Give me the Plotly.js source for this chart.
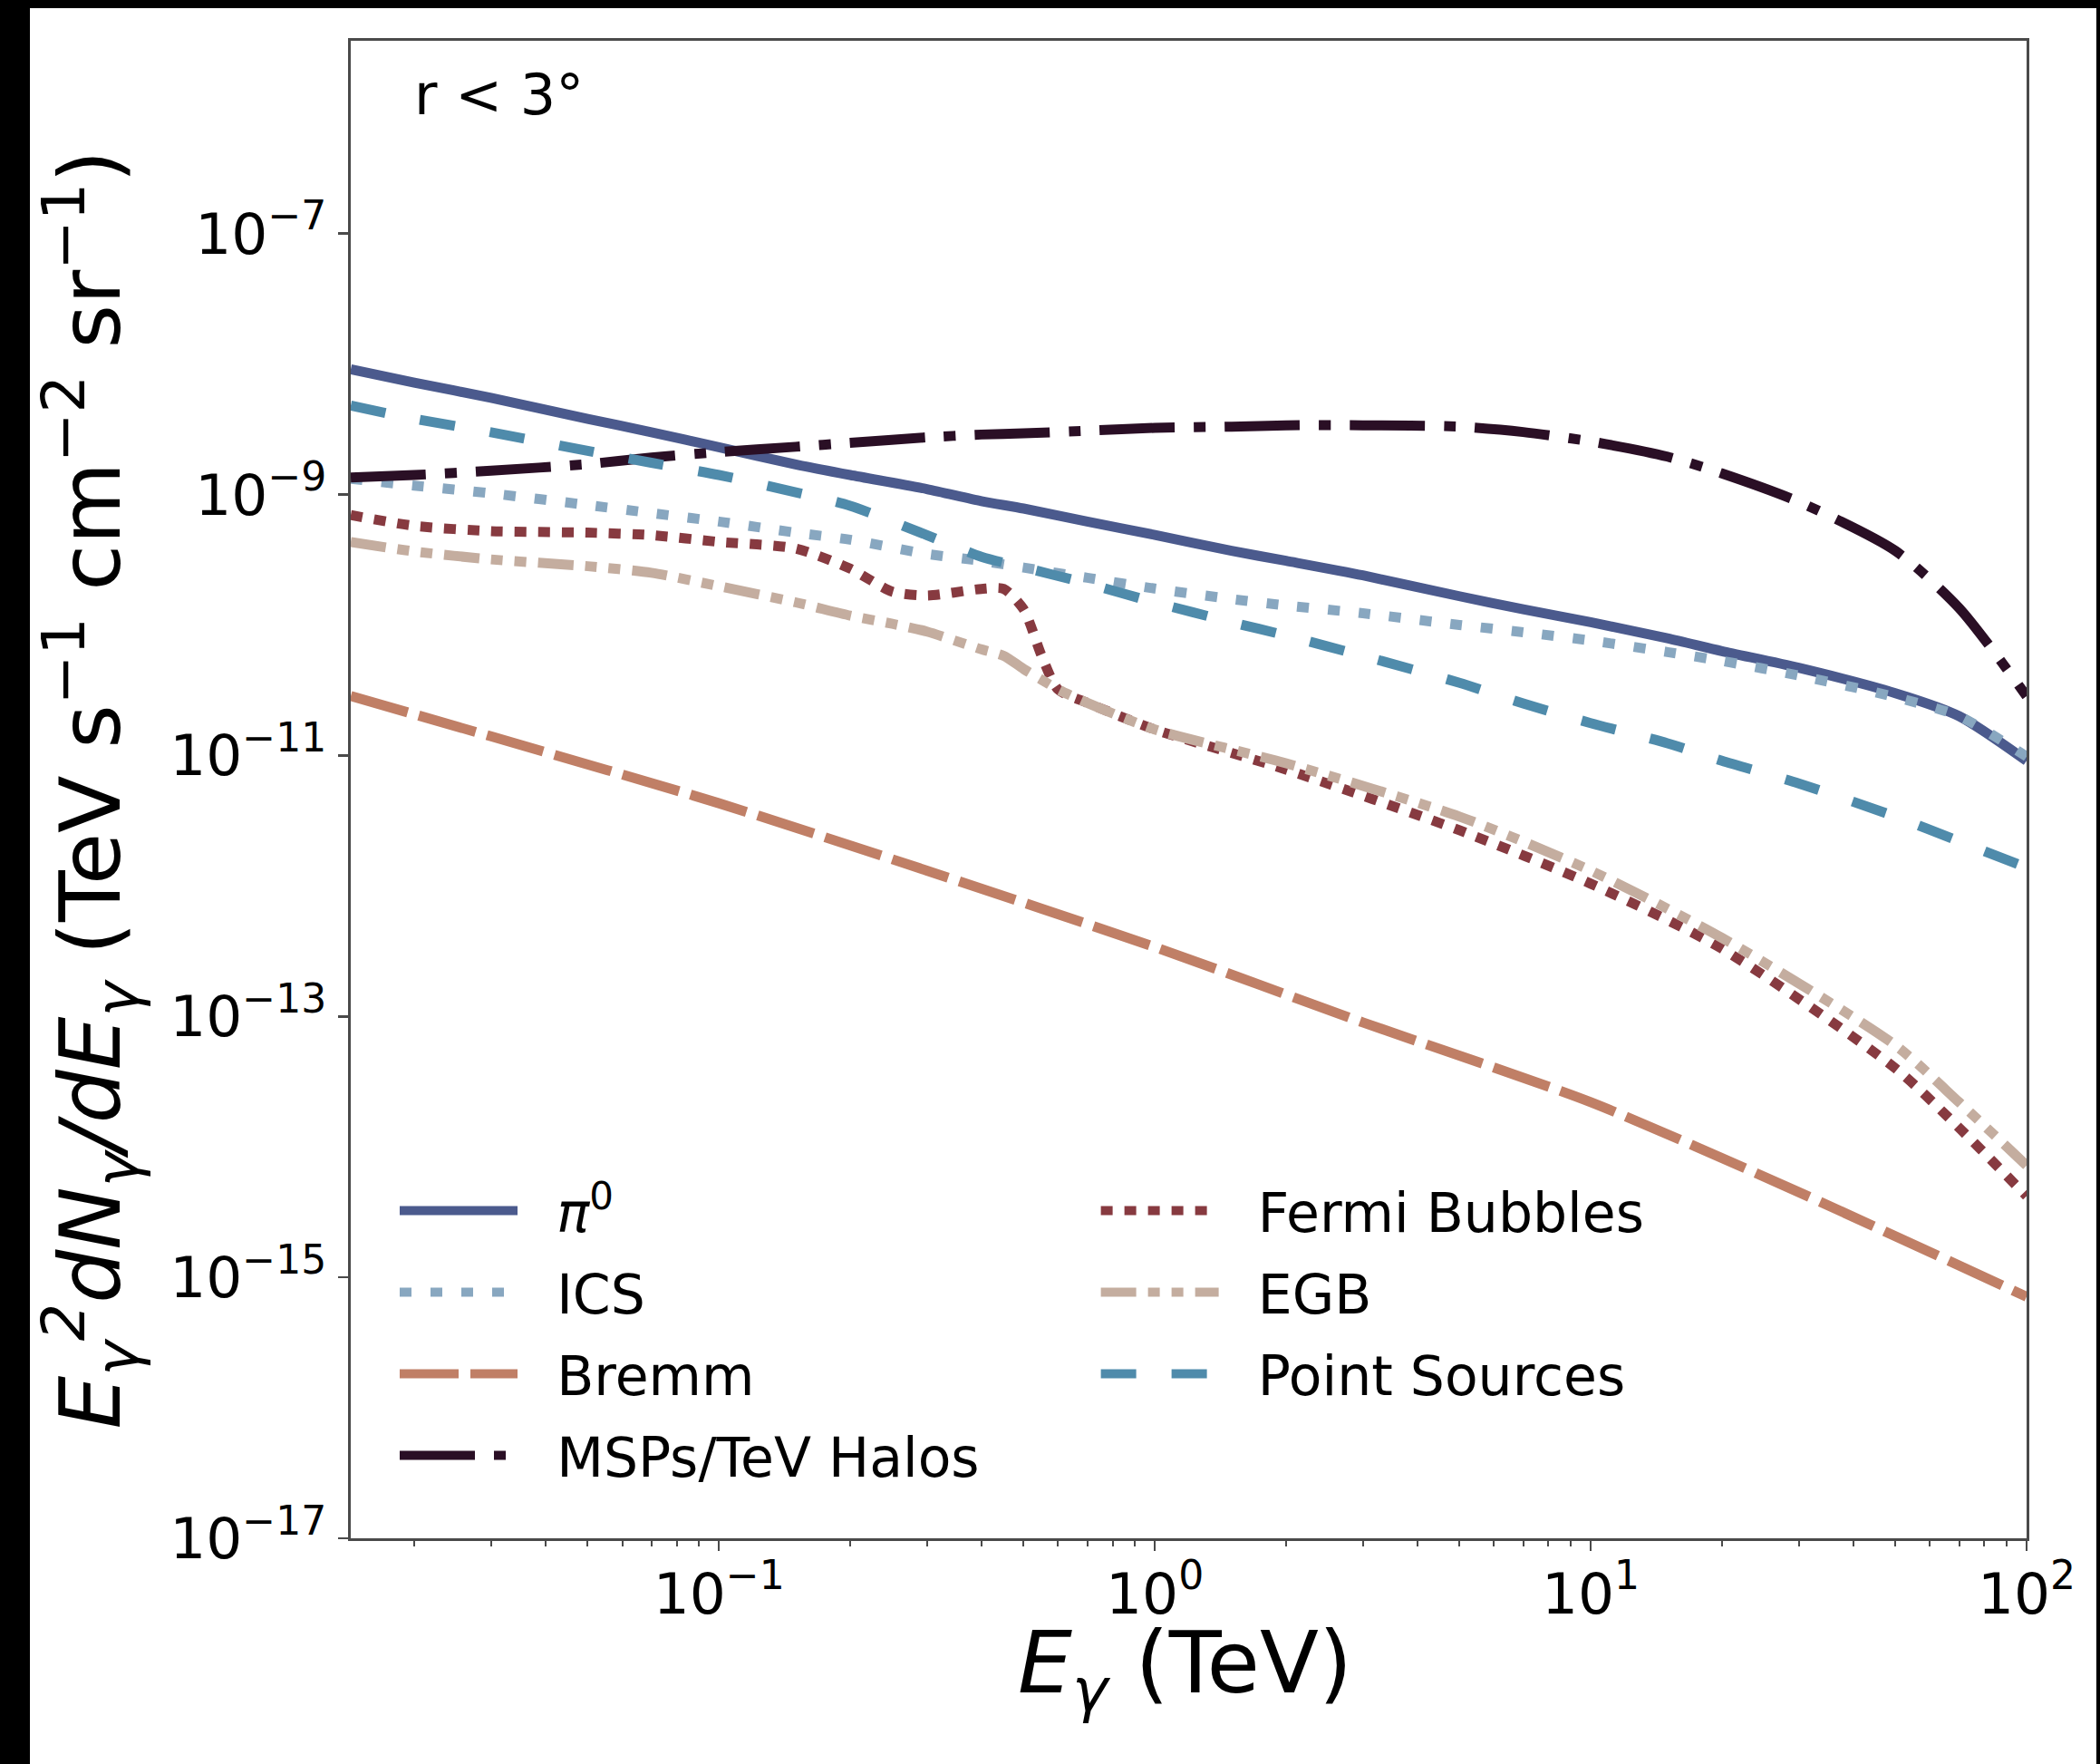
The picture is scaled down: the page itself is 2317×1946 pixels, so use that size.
<!DOCTYPE html>
<html>
<head>
<meta charset="utf-8">
<script src="https://cdn.plot.ly/plotly-3.0.1.min.js"></script>
<style>
  html, body { margin: 0; padding: 0; background: #000; width: 2317px; height: 1946px; overflow: hidden; }
  #chart { position: absolute; left: 33px; top: 9px; width: 2280px; height: 1937px; background: #fff; }
</style>
</head>
<body>
<div id="chart"></div>
<script>
// Photon energies (TeV)
const energy = [0.0143, 0.02, 0.03, 0.05, 0.07, 0.1, 0.15, 0.2, 0.3, 0.4, 0.5, 0.7, 1, 1.5, 2, 3, 5, 7, 10, 15, 20, 30, 50, 70, 100];
const energyFine = [0.0143, 0.02, 0.03, 0.05, 0.07, 0.1, 0.15, 0.2, 0.25, 0.3, 0.4, 0.45, 0.5, 0.55, 0.6, 0.7, 1, 2, 5, 10, 20, 50, 70, 100];
const energyBremm = [0.0143, 0.03, 0.1, 0.3, 1, 3, 10, 30, 100];

// E^2 dN/dE (TeV s^-1 cm^-2 sr^-1), r < 3 deg
const pi0 = [9.1e-9, 7.2e-9, 5.5e-9, 3.8e-9, 3.0e-9, 2.3e-9, 1.7e-9, 1.41e-9, 1.1e-9, 8.9e-10, 7.8e-10, 6.2e-10, 4.9e-10, 3.7e-10, 3.1e-10, 2.4e-10, 1.66e-10, 1.32e-10, 1.05e-10, 7.9e-11, 6.3e-11, 4.7e-11, 3.0e-11, 2.0e-11, 9.1e-12];
const ics = [1.32e-9, 1.17e-9, 1.02e-9, 8.3e-10, 7.2e-10, 6.2e-10, 5.1e-10, 4.5e-10, 3.5e-10, 3.1e-10, 2.75e-10, 2.3e-10, 1.9e-10, 1.58e-10, 1.41e-10, 1.23e-10, 1.0e-10, 8.8e-11, 7.6e-11, 6.2e-11, 5.3e-11, 4.1e-11, 2.8e-11, 2.0e-11, 9.8e-12];
const bremm = [2.85e-11, 1.4e-11, 4.3e-12, 1.31e-12, 3.4e-13, 9.0e-14, 2.2e-14, 4.5e-15, 7.1e-16];
const msps = [1.35e-9, 1.41e-9, 1.52e-9, 1.71e-9, 1.92e-9, 2.11e-9, 2.32e-9, 2.49e-9, 2.74e-9, 2.88e-9, 2.94e-9, 3.08e-9, 3.24e-9, 3.31e-9, 3.39e-9, 3.39e-9, 3.31e-9, 3.01e-9, 2.55e-9, 1.95e-9, 1.45e-9, 8.8e-10, 3.7e-10, 1.35e-10, 2.85e-11];
const fermiBubbles = [6.95e-10, 5.75e-10, 5.24e-10, 5.1e-10, 4.88e-10, 4.33e-10, 3.85e-10, 2.7e-10, 1.8e-10, 1.68e-10, 1.89e-10, 1.89e-10, 1.32e-10, 5.8e-11, 3.2e-11, 2.53e-11, 1.58e-11, 7.8e-12, 2.67e-12, 1.04e-12, 3.3e-13, 4.0e-14, 1.4e-14, 4.2e-15];
const egb = [4.33e-10, 3.66e-10, 3.18e-10, 2.82e-10, 2.51e-10, 1.98e-10, 1.49e-10, 1.18e-10, 1.02e-10, 8.9e-11, 6.5e-11, 5.8e-11, 4.6e-11, 3.8e-11, 3.2e-11, 2.53e-11, 1.58e-11, 8.7e-12, 3.4e-12, 1.31e-12, 4.0e-13, 6.0e-14, 2.2e-14, 7.2e-15];
const pointSources = [4.8e-9, 3.8e-9, 3.0e-9, 2.16e-9, 1.75e-9, 1.41e-9, 1.04e-9, 8.2e-10, 4.88e-10, 3.33e-10, 2.76e-10, 2.08e-10, 1.49e-10, 1.05e-10, 8.3e-11, 5.8e-11, 3.6e-11, 2.5e-11, 1.77e-11, 1.24e-11, 9.1e-12, 6.1e-12, 3.4e-12, 2.2e-12, 1.38e-12];

// Axis ticks
const xTickVals = [0.1, 1, 10, 100];
const xTickText = ['10<sup>\u22121</sup>', '10<sup>0</sup>', '10<sup>1</sup>', '10<sup>2</sup>'];
const yTickVals = [1e-17, 1e-15, 1e-13, 1e-11, 1e-9, 1e-7];
const yTickText = ['10<sup>\u221217</sup>', '10<sup>\u221215</sup>', '10<sup>\u221213</sup>', '10<sup>\u221211</sup>', '10<sup>\u22129</sup>', '10<sup>\u22127</sup>'];

const xMin = 0.0143, xMax = 100;
const yMin = 1e-17, yMax = 3.0e-6;

// minor ticks: 2..9 within each decade
const xMinor = [];
for (let d = -2; d <= 1; d++) {
  for (let m = 2; m <= 9; m++) {
    const v = m * Math.pow(10, d);
    if (v > xMin && v < xMax) xMinor.push(v);
  }
}

const NB = '\u00a0\u00a0';
const LW = 11;

function series(name, x, y, color, dash, legend) {
  return {
    type: 'scatter', mode: 'lines', name: NB + name, x: x, y: y,
    line: { color: color, width: LW, dash: dash, shape: 'spline', smoothing: 0.7 },
    legend: legend, legendgroup: name, hoverinfo: 'skip'
  };
}

const traces = [
  series('<i>\u03c0</i><sup>0</sup>', energy, pi0, '#4b5a8d', 'solid', 'legend'),
  series('ICS', energy, ics, '#88a7c0', '13px,21px', 'legend'),
  series('Bremm', energyBremm, bremm, '#c07f66', '65px,13px', 'legend'),
  series('MSPs/TeV Halos', energy, msps, '#2a0f25', '83px,21px,13px,21px', 'legend'),
  series('Fermi Bubbles', energyFine, fermiBubbles, '#873a40', '13px,13px', 'legend2'),
  series('EGB', energyFine, egb, '#c4ad9f', '39px,13px,13px,13px,13px,13px', 'legend2'),
  series('Point Sources', energy, pointSources, '#4f8bab', '39px,39px', 'legend2')
];

const axisColor = '#4a4a4a';
const legendBase = {
  xanchor: 'left', yanchor: 'top', y: 0.2464,
  bgcolor: 'rgba(0,0,0,0)', borderwidth: 0,
  font: { family: 'DejaVu Sans', size: 60, color: '#000' },
  itemwidth: 130, traceorder: 'grouped', tracegroupgap: 9,
  itemclick: false, itemdoubleclick: false
};

const layout = {
  width: 2280, height: 1937,
  margin: { l: 354, r: 77, t: 36, b: 249 },
  paper_bgcolor: '#fff', plot_bgcolor: '#fff',
  font: { family: 'DejaVu Sans', color: '#000' },
  showlegend: true,
  xaxis: {
    type: 'log', range: [Math.log10(xMin), Math.log10(xMax)],
    showline: true, mirror: true, linecolor: axisColor, linewidth: 3,
    showgrid: false, zeroline: false,
    ticks: 'outside', ticklen: 11, tickwidth: 2.5, tickcolor: axisColor,
    ticklabelstandoff: -7,
    tickmode: 'array', tickvals: xTickVals, ticktext: xTickText,
    tickfont: { family: 'DejaVu Sans', size: 63, color: '#000' },
    minor: { ticks: 'outside', ticklen: 6, tickwidth: 2, tickcolor: axisColor, tickmode: 'array', tickvals: xMinor, showgrid: false }
  },
  yaxis: {
    type: 'log', range: [Math.log10(yMin), Math.log10(yMax)],
    showline: true, mirror: true, linecolor: axisColor, linewidth: 3,
    showgrid: false, zeroline: false,
    ticks: 'outside', ticklen: 11, tickwidth: 2.5, tickcolor: axisColor,
    tickmode: 'array', tickvals: yTickVals, ticktext: yTickText,
    tickfont: { family: 'DejaVu Sans', size: 63, color: '#000' },
    title: { text: '<i>E<sub>\u03b3</sub><sup>2</sup>dN<sub>\u03b3</sub>/dE<sub>\u03b3</sub></i> (TeV s<sup>\u22121</sup> cm<sup>\u22122</sup> sr<sup>\u22121</sup>)', font: { family: 'DejaVu Sans', size: 93, color: '#000' }, standoff: 32 }
  },
  legend: Object.assign({}, legendBase, { x: 0.0265 }),
  legend2: Object.assign({}, legendBase, { x: 0.4449 }),
  annotations: [
    {
      xref: 'paper', yref: 'paper', x: 0.0368, y: 0.9637, xanchor: 'left', yanchor: 'middle',
      text: 'r < 3\u00b0', showarrow: false,
      font: { family: 'DejaVu Sans', size: 62, color: '#000' }
    },
    {
      // x-axis title
      xref: 'paper', yref: 'paper', x: 0.4978, y: -0.087, xanchor: 'center', yanchor: 'middle',
      text: '<i>E<sub>\u03b3</sub></i> (TeV)', showarrow: false,
      font: { family: 'DejaVu Sans', size: 95, color: '#000' }
    }
  ]
};

Plotly.newPlot('chart', traces, layout, { displayModeBar: false, staticPlot: true });
</script>
</body>
</html>
